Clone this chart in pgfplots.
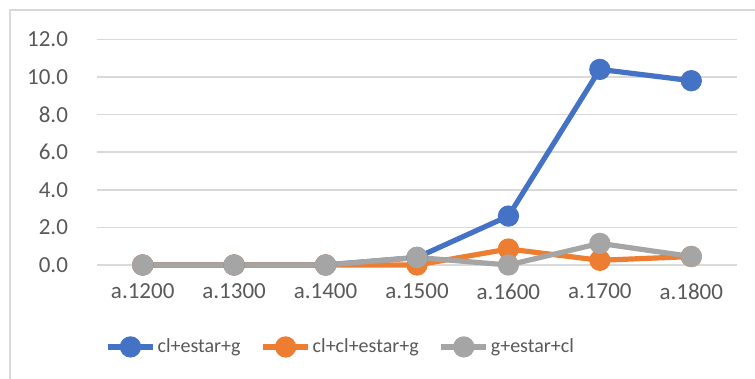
\documentclass[border=0pt]{standalone}
\usepackage{pgfplots}
\pgfplotsset{compat=1.18}
\usepackage{fontspec}
\setmainfont{Carlito}

\definecolor{sBlue}{HTML}{4472C4}
\definecolor{sOrange}{HTML}{ED7D31}
\definecolor{sGray}{HTML}{A5A5A5}
\definecolor{txt}{HTML}{595959}
\definecolor{gridc}{HTML}{D9D9D9}

\begin{document}
\begin{tikzpicture}
\useasboundingbox (0,0) rectangle (377.5pt,-189.5pt);
% chart frame
\draw[gridc, line width=0.75pt] (5pt,-189.5pt) -- (5pt,-5pt) -- (377.5pt,-5pt);

\begin{axis}[
  at={(48.5pt,-132.5pt)}, anchor=south west,
  scale only axis, width=320pt, height=112.85pt,
  xmin=-0.5, xmax=6.5, ymin=0, ymax=12,
  xtick={0,...,6},
  xticklabels={a.1200,a.1300,a.1400,a.1500,a.1600,a.1700,a.1800},
  ytick={0,2,...,12},
  yticklabel={\pgfmathprintnumber[fixed,fixed zerofill,precision=1]{\tick}},
  /pgf/number format/assume math mode=true,
  ymajorgrids, grid style={gridc, line width=0.75pt},
  axis line style={draw=none},
  tick style={draw=none},
  ticklabel style={font=\fontsize{11.5}{13}\selectfont, text=txt},
  yticklabel style={xshift=-11pt},
  xticklabel style={yshift=-6pt},
  clip=false,
  every axis plot/.append style={line width=2.6pt, mark=*, mark size=4pt},
  legend columns=3,
  legend style={
    at={(0.0125,-0.363)}, anchor=west, draw=none, inner sep=0pt,
    font=\fontsize{10}{12}\selectfont, text=txt,
    cells={anchor=west},
    nodes={inner sep=1pt},
    /tikz/every even column/.append style={column sep=9pt},
  },
  legend image code/.code={
    \draw[mark repeat=2, mark phase=2] plot coordinates {(0pt,0pt) (11.25pt,0pt) (22.5pt,0pt)};
  },
]
\addplot[sBlue, mark options={fill=sBlue, draw=sBlue}] coordinates {
  (0,0) (1,0) (2,0) (3,0.4) (4,2.6) (5,10.4) (6,9.8)};
\addlegendentry{cl+estar+g}
\addplot[sOrange, mark options={fill=sOrange, draw=sOrange}] coordinates {
  (0,0) (1,0) (2,0) (3,0) (4,0.85) (5,0.25) (6,0.45)};
\addlegendentry{cl+cl+estar+g}
\addplot[sGray, mark options={fill=sGray, draw=sGray}] coordinates {
  (0,0) (1,0) (2,0) (3,0.4) (4,0) (5,1.15) (6,0.45)};
\addlegendentry{g+estar+cl}
\end{axis}
\end{tikzpicture}
\end{document}
